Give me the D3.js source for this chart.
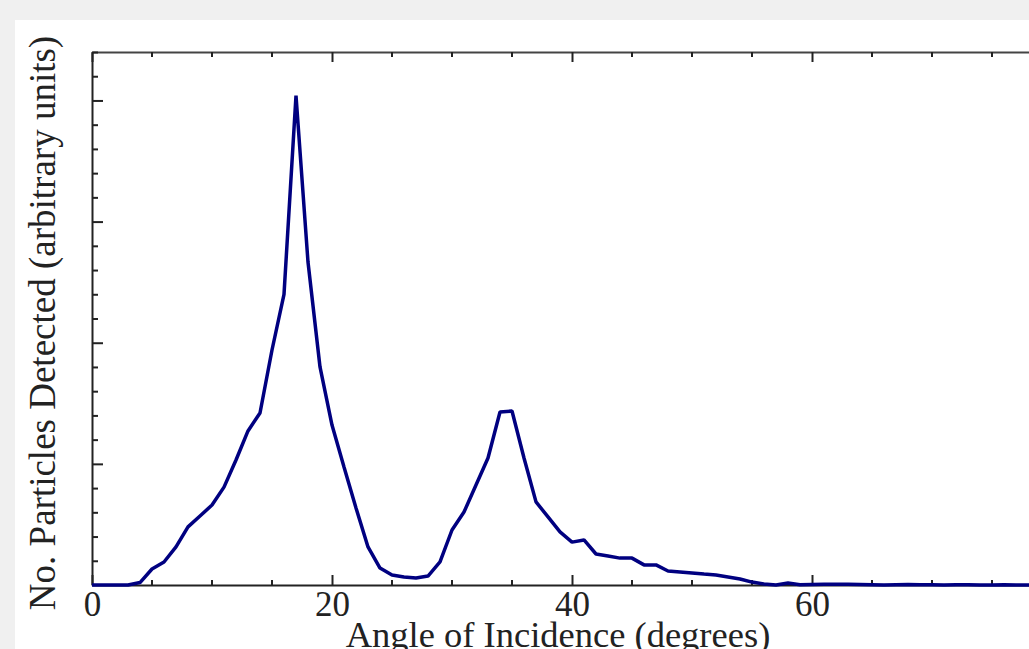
<!DOCTYPE html>
<html>
<head>
<meta charset="utf-8">
<script src="https://cdn.jsdelivr.net/npm/d3@7"></script>
<style>
  html, body { margin: 0; padding: 0; overflow: hidden; background: #f0f0f0; }
  #dataviz { width: 1029px; height: 649px; }
  text { font-family: "Liberation Serif", "Times New Roman", serif; fill: #222; }
</style>
</head>
<body>
<div id="dataviz"></div>
<script>
// angle of incidence (degrees)
var angles = [0, 1, 2, 3, 4, 5, 6, 7, 8, 9,
  10, 11, 12, 13, 14, 15, 16, 17, 18, 19,
  20, 21, 22, 23, 24, 25, 26, 27, 28, 29,
  30, 31, 32, 33, 34, 35, 36, 37, 38, 39,
  40, 41, 42, 43, 44, 45, 46, 47, 48, 49,
  50, 51, 52, 53, 54, 55, 56, 57, 58, 59,
  60, 61, 62, 63, 64, 65, 66, 67, 68, 69,
  70, 71, 72, 73, 74, 75, 76, 77, 78, 79, 80];

// particles detected (arbitrary units)
var counts = [0, 0, 0, 0, 10, 66, 95, 157, 240, 285,
  330, 404, 516, 636, 710, 970, 1200, 2020, 1333, 900,
  660, 487, 318, 157, 70, 41, 33, 29, 37, 95,
  227, 301, 413, 524, 714, 718, 524, 343, 281, 219,
  177, 186, 128, 120, 111, 111, 83, 83, 58, 54,
  50, 45, 41, 33, 25, 12, 4, 0, 8, 1,
  2, 3, 3, 3, 2, 1, 0, 1, 2, 1,
  1, 0, 1, 1, 0, 0, 1, 0, 0, 0, 0];

// labelled x ticks (80 falls off the right edge, so only ticks are drawn there)
var xMajor = [0, 20, 40, 60, 80];
var xLabels = ["0", "20", "40", "60", ""];
var xMinorStep = 5;
var yMajorStep = 500;
var yMinorStep = 100;

var W = 1029, H = 649;
var margin = {top: 52, left: 92, bottom: 64};
var plotW = 960;               // 0..80 deg, runs off the right edge
var plotH = H - margin.top - margin.bottom;

var svg = d3.select("#dataviz")
  .append("svg")
    .attr("width", W)
    .attr("height", H);

// white panel
svg.append("rect")
  .attr("x", 15).attr("y", 20)
  .attr("width", W - 15).attr("height", H - 20)
  .attr("fill", "#ffffff");

var x = d3.scaleLinear().domain([0, 80]).range([margin.left, margin.left + plotW]);
var y = d3.scaleLinear().domain([0, 2200]).range([margin.top + plotH, margin.top]);

var xMinor = d3.range(0, 80 + 1, xMinorStep).filter(function(v) { return xMajor.indexOf(v) < 0; });
var yTicks = d3.range(yMinorStep, 2200 + 1, yMinorStep);

var axisColor = "#222";

// bottom axis: ticks pointing inward
var bottomAxis = svg.append("g")
  .attr("transform", "translate(0," + y(0) + ")")
  .call(d3.axisBottom(x).tickValues(xMajor).tickSizeInner(-10).tickSizeOuter(0)
    .tickFormat(function(d, i) { return xLabels[i]; }));
bottomAxis.select(".domain").attr("stroke", axisColor).attr("stroke-width", 2);
bottomAxis.selectAll(".tick line").attr("stroke", axisColor).attr("stroke-width", 2);
bottomAxis.selectAll(".tick text")
  .attr("y", 31).attr("dy", 0)
  .attr("font-size", 35).attr("fill", "#333")
  .attr("font-family", "Liberation Serif, Times New Roman, serif");
bottomAxis.selectAll(".minor").data(xMinor).enter().append("line")
  .attr("x1", function(d) { return x(d); }).attr("x2", function(d) { return x(d); })
  .attr("y1", 0).attr("y2", -5)
  .attr("stroke", axisColor).attr("stroke-width", 2);

// top axis
var topAxis = svg.append("g")
  .attr("transform", "translate(0," + y(2200) + ")")
  .call(d3.axisTop(x).tickValues(xMajor).tickSizeInner(-10).tickSizeOuter(0).tickFormat(""));
topAxis.select(".domain").attr("stroke", "#444").attr("stroke-width", 2);
topAxis.selectAll(".tick line").attr("stroke", axisColor).attr("stroke-width", 2);
topAxis.selectAll(".minor").data(xMinor).enter().append("line")
  .attr("x1", function(d) { return x(d); }).attr("x2", function(d) { return x(d); })
  .attr("y1", 0).attr("y2", 5)
  .attr("stroke", axisColor).attr("stroke-width", 2);

// left axis, no labels
var leftAxis = svg.append("g")
  .attr("transform", "translate(" + x(0) + ",0)")
  .call(d3.axisLeft(y).tickValues(yTicks).tickSizeOuter(0).tickFormat(""));
leftAxis.select(".domain").attr("stroke", axisColor).attr("stroke-width", 2);
leftAxis.selectAll(".tick line")
  .attr("x2", function(d) { return d % yMajorStep === 0 ? 11 : 6; })
  .attr("stroke", axisColor).attr("stroke-width", 2);

// the curve
var line = d3.line()
  .x(function(d, i) { return x(angles[i]); })
  .y(function(d) { return y(d); });

svg.append("path")
  .datum(counts)
  .attr("d", line)
  .attr("fill", "none")
  .attr("stroke", "#000080")
  .attr("stroke-width", 3.5)
  .attr("stroke-linejoin", "bevel");

// axis titles
svg.append("text")
  .attr("x", 558)
  .attr("y", 647)
  .text("Angle of Incidence (degrees)")
    .style("text-anchor", "middle")
    .style("font-size", "36.5px");

svg.append("text")
  .attr("transform", "translate(55," + 323 + ") rotate(-90)")
  .text("No. Particles Detected (arbitrary units)")
    .style("text-anchor", "middle")
    .style("font-size", "37px");
</script>
</body>
</html>
